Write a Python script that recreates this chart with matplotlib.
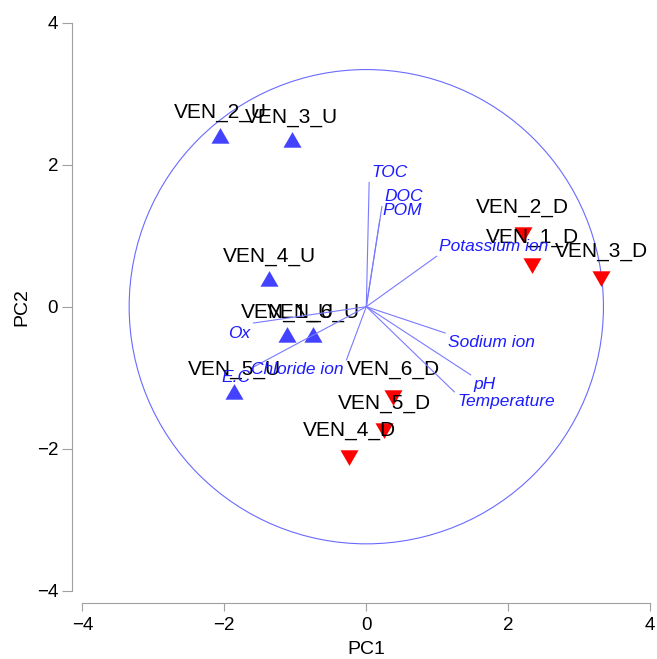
import matplotlib
matplotlib.use('Agg')
import matplotlib.pyplot as plt
import matplotlib.transforms as mtransforms
from matplotlib.patches import Circle

# ---- data ----
samples = ['VEN_1_U', 'VEN_2_U', 'VEN_3_U', 'VEN_4_U', 'VEN_5_U', 'VEN_6_U',
           'VEN_1_D', 'VEN_2_D', 'VEN_3_D', 'VEN_4_D', 'VEN_5_D', 'VEN_6_D']
pc1 = [-1.11, -2.06, -1.05, -1.37, -1.86, -0.75, 2.34, 2.20, 3.31, -0.24, 0.25, 0.38]
pc2 = [-0.43, 2.38, 2.32, 0.36, -1.23, -0.43, 0.62, 1.05, 0.43, -2.09, -1.71, -1.24]
site = ['U', 'U', 'U', 'U', 'U', 'U', 'D', 'D', 'D', 'D', 'D', 'D']

variables = ['TOC', 'DOC', 'POM', 'Potassium ion', 'Sodium ion', 'pH',
             'Temperature', 'Chloride ion', 'E.C', 'Ox']
load1 = [0.04, 0.22, 0.19, 0.99, 1.11, 1.47, 1.24, -0.28, -1.59, -1.59]
load2 = [1.75, 1.41, 1.22, 0.71, -0.37, -0.96, -1.20, -0.75, -0.85, -0.23]

circle_radius = 3.34
ticks = [-4, -2, 0, 2, 4]
xlabel = 'PC1'
ylabel = 'PC2'

# ---- styling ----
plt.rcParams['font.family'] = ['Liberation Sans', 'DejaVu Sans']
W, H = 657, 659
fig = plt.figure(figsize=(W / 100, H / 100), dpi=100)
left_px, right_px, top_px, bottom_px = 71.7, 657.0, 10.0, 602.5
ax = fig.add_axes([left_px / W, (H - bottom_px) / H,
                   (right_px - left_px) / W, (bottom_px - top_px) / H])
ppu = 71.0
xlo = -4 - (82.3 - left_px) / ppu
ylo = -4 - (bottom_px - 590.7) / ppu
ax.set_xlim(xlo, xlo + (right_px - left_px) / ppu)
ax.set_ylim(ylo, ylo + (bottom_px - top_px) / ppu)

axis_grey = '#a0a0a0'
for s in ['top', 'right']:
    ax.spines[s].set_visible(False)
for s in ['left', 'bottom']:
    ax.spines[s].set_color(axis_grey)
    ax.spines[s].set_linewidth(0.8)
    ax.spines[s].set_bounds(-4, 4)
ax.set_xticks(ticks)
ax.set_yticks(ticks)
ax.set_xticklabels(['\u22124', '\u22122', '0', '2', '4'])
ax.set_yticklabels(['\u22124', '\u22122', '0', '2', '4'])
ax.tick_params(axis='x', direction='out', length=6, width=0.8, color=axis_grey,
               labelsize=13.5, pad=4.5, labelcolor='black')
ax.tick_params(axis='y', direction='out', length=7, width=0.8, color=axis_grey,
               labelsize=13.5, pad=2.7, labelcolor='black')

ax.set_xlabel(xlabel, fontsize=14, va='center')
ax.set_ylabel(ylabel, fontsize=14, va='center')
ax.xaxis.set_label_coords(0, (bottom_px - 650) / (bottom_px - top_px),
                          transform=mtransforms.blended_transform_factory(ax.transData, ax.transAxes))
ax.yaxis.set_label_coords((22 - left_px) / (right_px - left_px), 0,
                          transform=mtransforms.blended_transform_factory(ax.transAxes, ax.transData))

# circle
ax.add_patch(Circle((0, 0), circle_radius, fill=False, edgecolor='#6a6aff', linewidth=0.8, zorder=1))

# markers (equilateral, centroid-centred like R pch 17)
up = [(0, 1.555), (1.3468, -0.7776), (-1.3468, -0.7776), (0, 1.555)]
down = [(x, -y) for x, y in up]
for x, y, g in zip(pc1, pc2, site):
    if g == 'U':
        ax.plot(x, y, marker=up, ms=15, color='#4343ff', mec='none', ls='none', zorder=3)
    else:
        ax.plot(x, y, marker=down, ms=15, color='#ff0000', mec='none', ls='none', zorder=3)

for name, x, y in zip(samples, pc1, pc2):
    ax.text(x, y + 0.275, name, ha='center', va='baseline', fontsize=15,
            color='black', zorder=4)

# loadings
for name, x, y in zip(variables, load1, load2):
    ax.plot([0, x], [0, y], color='#7a7aff', linewidth=0.8, zorder=5)
    ha = 'left' if x > 0 else 'right'
    va = 'bottom' if y > 0 else 'top'
    dx = 2 if x > 0 else -2
    dy = 1.8 if y > 0 else -1.8
    ax.annotate(name, (x, y), xytext=(dx, dy), textcoords='offset points',
                ha=ha, va=va, fontsize=12.5, fontstyle='italic', color='#1c1cff',
                zorder=6)

fig.savefig('out.png', dpi=100)
